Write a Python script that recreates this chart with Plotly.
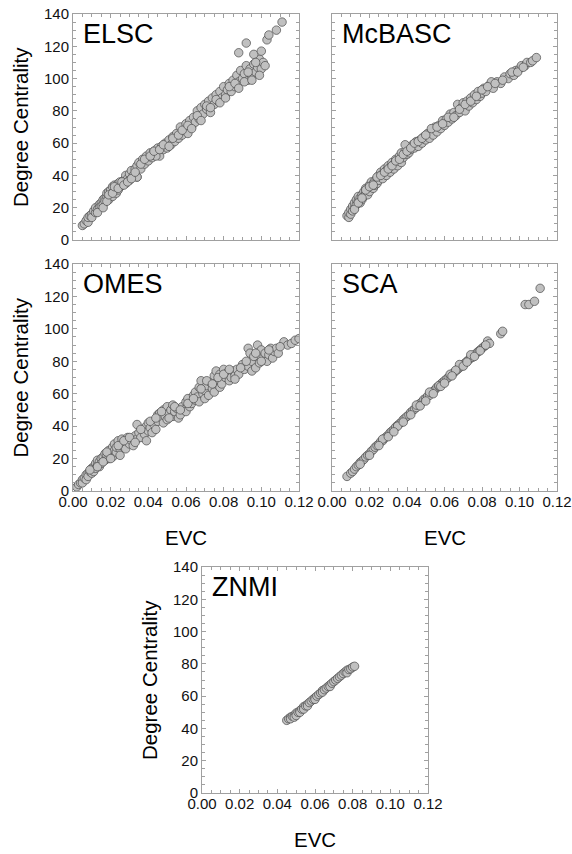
import plotly.graph_objects as go

# ---------------- data ----------------
ELSC_evc = [0.005,0.006,0.007,0.008,0.008,0.009,0.010,0.010,0.011,0.012,0.012,0.013,0.014,0.014,0.015,0.015,0.016,0.016,0.017,0.017,
            0.018,0.018,0.019,0.019,0.020,0.020,0.021,0.021,0.022,0.022,0.023,0.023,0.024,0.024,0.025,0.025,0.026,0.027,0.028,0.028,
            0.029,0.030,0.030,0.031,0.032,0.033,0.034,0.034,0.035,0.036,0.037,0.038,0.039,0.040,0.041,0.042,0.043,0.044,0.045,0.046,
            0.047,0.048,0.049,0.050,0.051,0.052,0.053,0.054,0.055,0.056,0.057,0.058,0.059,0.060,0.061,0.062,0.063,0.064,0.065,0.066,
            0.067,0.068,0.069,0.070,0.071,0.072,0.073,0.074,0.075,0.076,0.077,0.078,0.079,0.080,0.081,0.082,0.083,0.084,0.085,0.086,
            0.087,0.088,0.089,0.090,0.091,0.092,0.093,0.094,0.095,0.096,0.097,0.098,0.099,0.100,0.101,0.092,0.096,0.088,0.100,0.103,
            0.104,0.108,0.111,0.044,0.034,
            0.013,0.016,0.018,0.019,0.021,0.022,0.024,0.026,0.027,0.029,0.031,0.033,0.036,0.038,0.041,0.043,0.046,0.048,0.051,0.053,
            0.056,0.058,0.061,0.063,0.066,0.068,0.071,0.073,0.076,0.078,0.081,0.083,0.086,0.088,0.091,0.093,0.095,0.097,0.099,0.102]
ELSC_dc = [9,10,12,11,14,15,16,14,18,17,20,19,22,20,23,21,25,22,26,24,
           27,29,25,30,28,31,27,33,30,34,32,29,35,31,33,36,34,37,35,40,
           38,41,37,43,40,44,39,46,48,44,50,47,52,49,54,51,55,53,57,52,
           58,56,60,57,62,59,64,61,66,63,70,65,68,72,66,74,70,76,73,80,
           75,82,78,84,81,86,79,88,84,90,86,92,88,95,90,93,97,92,99,95,
           102,98,105,100,103,108,99,106,101,109,104,107,112,106,110,122,115,116,117,124,
           127,130,135,52,39,
           17,20,24,28,29,33,32,36,34,36,38,42,47,50,52,55,56,59,58,63,
           65,68,71,69,77,74,83,82,87,85,88,95,97,94,98,104,99,110,102,108]

McBASC_evc = [0.008,0.009,0.009,0.010,0.010,0.011,0.011,0.012,0.012,0.013,0.013,0.014,0.014,0.015,0.015,0.016,0.016,0.017,0.017,0.018,
              0.018,0.019,0.019,0.020,0.020,0.021,0.021,0.022,0.022,0.023,0.023,0.024,0.024,0.025,0.025,0.026,0.026,0.027,0.027,0.028,
              0.029,0.029,0.030,0.031,0.031,0.032,0.033,0.033,0.034,0.035,0.035,0.036,0.037,0.037,0.038,0.039,0.040,0.040,0.041,0.042,
              0.043,0.044,0.045,0.046,0.047,0.048,0.049,0.050,0.051,0.052,0.053,0.054,0.055,0.056,0.057,0.058,0.059,0.060,0.061,0.062,
              0.063,0.064,0.065,0.066,0.067,0.068,0.069,0.070,0.071,0.072,0.073,0.074,0.075,0.076,0.077,0.078,0.079,0.080,0.081,0.082,
              0.084,0.086,0.088,0.090,0.092,0.094,0.095,0.097,0.098,0.100,0.101,0.103,0.104,0.106,0.107,0.109,0.085,0.039,
              0.012,0.014,0.016,0.018,0.020,0.022,0.024,0.026,0.028,0.030,0.032,0.034,0.036,0.038,0.040,0.042,0.044,0.046,0.048,0.050,
              0.053,0.056,0.059,0.062,0.065,0.068,0.071,0.074,0.077,0.080,0.083,0.087,0.091,0.096,0.099,0.102]
McBASC_dc = [15,14,17,16,19,18,21,20,23,22,25,24,27,23,26,28,25,30,27,29,
             32,28,31,34,30,33,36,32,35,37,34,38,35,40,37,39,42,38,41,44,
             40,43,46,42,45,48,44,47,50,46,49,52,48,54,51,55,53,58,54,56,
             59,57,61,58,62,60,64,62,66,63,67,65,70,67,71,69,74,71,75,73,
             78,75,79,77,84,79,82,85,80,86,83,88,85,90,87,92,89,91,94,92,
             96,94,98,97,101,100,103,102,105,106,108,108,110,110,111,113,98,59,
             19,23,26,31,33,34,39,40,42,44,46,49,50,53,55,57,60,61,63,65,
             69,70,72,76,76,81,84,86,89,93,95,97,99,104,104,107]

OMES_evc = [0.002,0.003,0.004,0.005,0.005,0.006,0.007,0.007,0.008,0.008,0.009,0.010,0.010,0.011,0.011,0.012,0.012,0.013,0.013,0.014,
            0.014,0.015,0.015,0.016,0.017,0.017,0.018,0.019,0.019,0.020,0.021,0.021,0.022,0.022,0.023,0.023,0.024,0.025,0.025,0.026,
            0.026,0.027,0.028,0.028,0.029,0.030,0.031,0.032,0.033,0.034,0.034,0.035,0.036,0.037,0.038,0.039,0.039,0.040,0.040,0.041,
            0.042,0.043,0.044,0.045,0.045,0.046,0.047,0.048,0.048,0.049,0.050,0.050,0.051,0.052,0.053,0.053,0.054,0.055,0.056,0.057,
            0.058,0.059,0.060,0.060,0.061,0.062,0.063,0.064,0.065,0.065,0.066,0.067,0.067,0.068,0.069,0.070,0.070,0.071,0.072,0.073,
            0.074,0.075,0.075,0.076,0.077,0.078,0.078,0.079,0.080,0.081,0.082,0.083,0.084,0.085,0.086,0.087,0.088,0.090,0.091,0.093,
            0.093,0.094,0.095,0.095,0.096,0.097,0.098,0.099,0.100,0.101,0.102,0.103,0.104,0.105,0.106,0.107,0.108,0.109,0.112,0.114,
            0.116,0.118,0.120,
            0.009,0.013,0.016,0.018,0.020,0.024,0.027,0.030,0.033,0.036,0.041,0.044,0.047,0.051,0.054,0.057,0.061,0.064,0.068,0.071,
            0.074,0.077,0.080,0.083,0.086,0.089,0.092,0.097,0.100,0.104,0.110]
OMES_dc = [2.5,4,5,7,5,8,10,7,11,9,12,14,11,15,12,17,14,16,19,18,
           15,20,17,21,19,23,22,20,25,23,27,21,25,29,24,27,31,26,22,29,
           32,27,30,26,33,29,31,28,34,41,32,36,33,38,35,31,40,42,37,39,
           36,41,38,47,43,48,45,42,50,46,52,44,48,50,46,53,49,51,45,47,
           52,50,55,49,57,52,54,59,56,61,58,64,55,68,60,62,57,65,59,67,
           63,71,61,74,68,72,64,66,75,70,73,68,70,74,71,75,72,78,75,88,
           77,85,80,74,83,76,90,79,87,82,85,80,84,88,82,86,88,85,92,90,
           91,93,94,
           13,15,18,24,20,28,31,33,30,38,43,45,49,45,52,50,54,57,63,68,
           66,70,72,75,69,76,80,85,80,87,89]

SCA_evc = [0.008,0.010,0.011,0.012,0.013,0.014,0.015,0.016,0.017,0.018,0.019,0.020,0.021,0.022,0.023,0.024,0.025,0.026,0.027,0.028,
           0.029,0.030,0.031,0.032,0.033,0.034,0.035,0.036,0.037,0.038,0.039,0.040,0.041,0.042,0.043,0.044,0.045,0.046,0.047,0.048,
           0.049,0.050,0.051,0.052,0.053,0.054,0.055,0.056,0.057,0.058,0.059,0.060,0.061,0.062,0.063,0.064,0.065,0.066,0.067,0.068,
           0.069,0.070,0.071,0.072,0.073,0.074,0.075,0.076,0.077,0.078,0.079,0.080,0.081,0.082,0.083,0.084,0.090,0.091,0.103,0.105,
           0.108,0.111,0.052,0.063,0.045,0.057,0.068,0.074,0.066,0.035,0.027,
           0.015,0.020,0.025,0.030,0.033,0.038,0.042,0.047,0.050,0.054,0.058,0.060,0.064,0.070,0.072,0.076,0.079,0.082]
SCA_dc = [9,11,12,13.5,15,16,17.5,18.5,19.5,21,22,23,24.5,25.5,27,28,29,30.5,31,32.5,
          33.5,34.5,36,37,38,39.5,40.5,41.5,42.5,44,45,46,47,48.5,49.5,50.5,51.5,53,54,55,
          56.5,57,58.5,59,60.5,61.5,62.5,64,64.5,66,67,68,69,70,71,72,73,74,75,76,
          77,78,79,80,81,82,82.5,84,85,86,87,88,89,90,92.5,91,97,98.5,115,115,
          117,125,61,72,53,65,78,84,74.5,40,32,
          16.5,22,28,33.5,36.5,42.5,47,52.5,55.5,60,64.5,66.5,71,77,79.5,83,86.5,90]

ZNMI_evc = [0.045,0.046,0.047,0.047,0.048,0.049,0.049,0.050,0.050,0.051,0.052,0.052,0.053,0.054,0.054,0.055,0.056,0.056,0.057,0.058,
            0.059,0.060,0.060,0.061,0.062,0.063,0.064,0.064,0.065,0.066,0.067,0.068,0.068,0.069,0.070,0.071,0.072,0.073,0.074,0.075,
            0.076,0.077,0.077,0.078,0.079,0.080,0.081]
ZNMI_dc = [45,46,47,46,47.5,48,47,49.5,48,50,51,50,52,53.5,52,54,55,54,56,57,
           58,59,58,60,61,62,63.5,62.5,64,65,66,67,66,68,69,70,71,72,73,74,
           75,76,74.5,76.5,77,78,78.5]

PANEL_NAMES = ["ELSC", "McBASC", "OMES", "SCA", "ZNMI"]
X_TITLE = "EVC"
Y_TITLE = "Degree Centrality"

# ---------------- layout ----------------
W, H = 572, 854
FONT = "Liberation Sans, Arial, Helvetica, sans-serif"

def px_x(v):
    return v / W

def px_y(v):
    return 1 - v / H

# (left, right, top, bottom) in pixels, show x tick labels, show y tick labels
boxes = [
    (73, 299, 14, 240, False, True),
    (332, 557, 14, 240, False, False),
    (73, 299, 264, 491, True, True),
    (332, 557, 264, 491, True, False),
    (202, 428, 567, 793, True, True),
]
series = [(ELSC_evc, ELSC_dc), (McBASC_evc, McBASC_dc), (OMES_evc, OMES_dc),
          (SCA_evc, SCA_dc), (ZNMI_evc, ZNMI_dc)]

fig = go.Figure()
annotations = []
axcol = "#a0a0a0"
for i, ((l, r, t, b, showx, showy), (xs, ys), name) in enumerate(zip(boxes, series, PANEL_NAMES)):
    k = "" if i == 0 else str(i + 1)
    fig.add_trace(go.Scatter(
        x=xs, y=ys, mode="markers", xaxis="x" + k, yaxis="y" + k,
        marker=dict(size=8.5, color="#c0c0c0", line=dict(color="#4a4a4a", width=0.7)),
        showlegend=False, hoverinfo="skip"))
    common = dict(showline=True, linecolor=axcol, linewidth=1, mirror="ticks",
                  ticks="inside", ticklen=4, tickcolor=axcol, tickwidth=1,
                  showgrid=False, zeroline=False, automargin=False,
                  tickfont=dict(family=FONT, size=15, color="#111111"))
    fig.update_layout(**{
        "xaxis" + k: dict(common, domain=[px_x(l), px_x(r)], anchor="y" + k,
                          range=[0, 0.12], tick0=0, dtick=0.02, tickformat=".2f",
                          showticklabels=showx, ticklabelstandoff=-3,
                          minor=dict(dtick=0.005, ticks="inside", ticklen=3, tickcolor=axcol)),
        "yaxis" + k: dict(common, domain=[px_y(b), px_y(t)], anchor="x" + k,
                          range=[0, 140], tick0=0, dtick=20,
                          showticklabels=showy,
                          minor=dict(dtick=5, ticks="inside", ticklen=3, tickcolor=axcol)),
    })
    annotations.append(dict(text=name, x=px_x(l + 8), y=px_y(t + 20), xref="paper", yref="paper",
                            xanchor="left", yanchor="middle", showarrow=False,
                            font=dict(family=FONT, size=27, color="black")))
    if showy:
        annotations.append(dict(text=Y_TITLE, x=px_x(l - 53), y=px_y((t + b) / 2), xref="paper", yref="paper",
                                xanchor="center", yanchor="middle", textangle=-90, showarrow=False,
                                font=dict(family=FONT, size=20.5, color="black")))
    if showx:
        annotations.append(dict(text=X_TITLE, x=px_x((l + r) / 2), y=px_y(b + 46), xref="paper", yref="paper",
                                xanchor="center", yanchor="middle", showarrow=False,
                                font=dict(family=FONT, size=20.5, color="black")))

fig.update_layout(width=W, height=H, margin=dict(l=0, r=0, t=0, b=0),
                  paper_bgcolor="white", plot_bgcolor="white",
                  annotations=annotations, font=dict(family=FONT))
fig.write_html("out.html", config={"displayModeBar": False},
               post_script="document.body.style.margin='0';document.body.style.padding='0';")
